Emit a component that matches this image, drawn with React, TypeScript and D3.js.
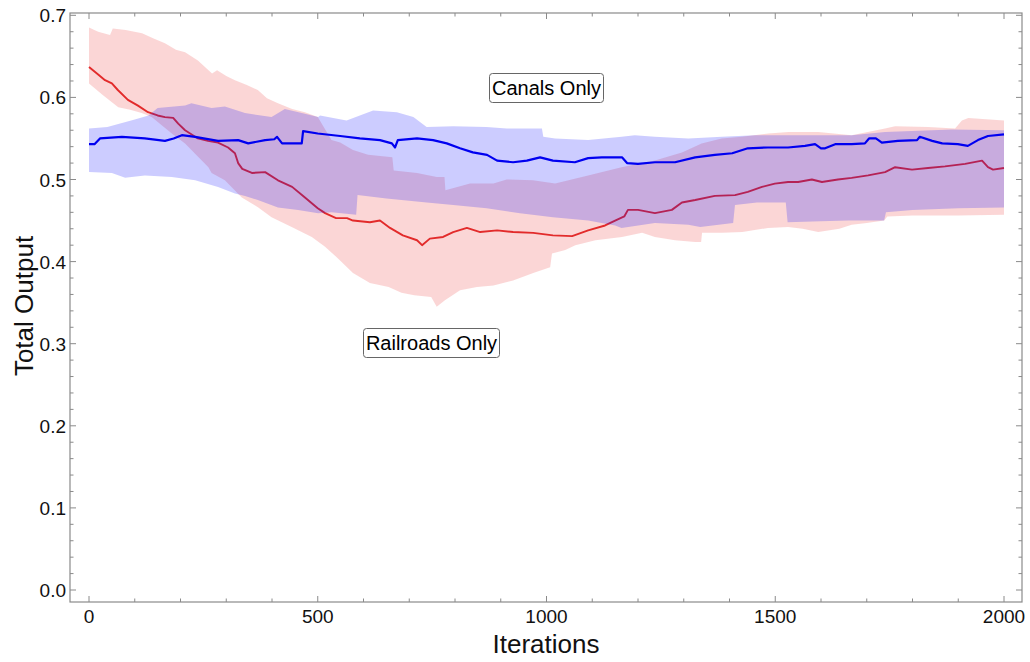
import React from "react";
import * as d3 from "d3";

type P = [number, number];

const xTicksMajor = [0, 500, 1000, 1500, 2000];
const yTicksMajor = [0, 0.1, 0.2, 0.3, 0.4, 0.5, 0.6, 0.7];
const seriesLabels = ["Canals Only", "Railroads Only"];

const redMean: P[] = [
  [0, 0.637], [20, 0.628], [35, 0.621], [50, 0.617], [63, 0.609], [85, 0.597], [107, 0.59], [129, 0.582],
  [150, 0.578], [166, 0.576], [184, 0.575], [195, 0.568], [210, 0.56], [238, 0.55], [260, 0.547], [282, 0.545],
  [304, 0.539], [319, 0.532], [326, 0.52], [335, 0.513], [356, 0.508], [385, 0.509], [413, 0.499], [444, 0.491],
  [472, 0.478], [500, 0.465], [516, 0.459], [540, 0.453], [564, 0.453], [577, 0.45], [614, 0.448], [636, 0.45],
  [658, 0.441], [686, 0.432], [717, 0.426], [728, 0.42], [745, 0.428], [774, 0.43], [796, 0.436], [826, 0.441],
  [855, 0.436], [892, 0.438], [927, 0.436], [971, 0.435], [1014, 0.432], [1056, 0.431], [1091, 0.438],
  [1128, 0.444], [1150, 0.45], [1170, 0.455], [1178, 0.463], [1200, 0.463], [1237, 0.459], [1274, 0.463],
  [1296, 0.472], [1325, 0.475], [1368, 0.48], [1412, 0.481], [1440, 0.485], [1471, 0.491], [1499, 0.495],
  [1528, 0.497], [1550, 0.497], [1580, 0.5], [1602, 0.497], [1637, 0.5], [1667, 0.502], [1703, 0.505],
  [1740, 0.509], [1762, 0.515], [1799, 0.512], [1834, 0.514], [1871, 0.516], [1915, 0.519], [1952, 0.523],
  [1965, 0.515], [1976, 0.512], [2000, 0.514],
];

const redUpper: P[] = [
  [0, 0.685], [20, 0.68], [46, 0.676], [52, 0.684], [80, 0.682], [116, 0.678], [140, 0.672], [166, 0.666],
  [190, 0.658], [210, 0.655], [238, 0.645], [269, 0.629], [280, 0.633], [300, 0.626], [319, 0.621],
  [345, 0.615], [369, 0.609], [389, 0.599], [413, 0.593], [444, 0.586], [472, 0.582], [500, 0.576],
  [515, 0.562], [530, 0.548], [549, 0.545], [577, 0.536], [610, 0.53], [663, 0.527], [666, 0.511],
  [717, 0.508], [760, 0.503], [777, 0.503], [779, 0.487], [833, 0.495], [884, 0.495], [913, 0.5],
  [970, 0.499], [1019, 0.495], [1091, 0.505], [1164, 0.515], [1237, 0.523], [1296, 0.533], [1339, 0.544],
  [1383, 0.55], [1427, 0.552], [1485, 0.556], [1529, 0.558], [1594, 0.558], [1667, 0.554], [1740, 0.562],
  [1762, 0.565], [1834, 0.564], [1893, 0.562], [1908, 0.572], [1922, 0.575], [2000, 0.572],
];

const redLower: P[] = [
  [0, 0.617], [30, 0.603], [64, 0.588], [90, 0.585], [115, 0.581], [137, 0.576], [181, 0.556], [210, 0.544],
  [261, 0.515], [268, 0.508], [297, 0.499], [334, 0.478], [370, 0.466], [399, 0.454], [443, 0.442],
  [487, 0.43], [516, 0.418], [542, 0.405], [577, 0.386], [614, 0.374], [655, 0.369], [683, 0.362],
  [711, 0.359], [748, 0.357], [760, 0.345], [778, 0.353], [811, 0.365], [848, 0.369], [884, 0.371],
  [927, 0.377], [971, 0.386], [1008, 0.393], [1012, 0.41], [1041, 0.414], [1063, 0.42], [1107, 0.426],
  [1165, 0.43], [1209, 0.435], [1237, 0.43], [1281, 0.426], [1325, 0.424], [1338, 0.424], [1340, 0.435],
  [1384, 0.435], [1428, 0.436], [1484, 0.441], [1528, 0.442], [1560, 0.44], [1594, 0.436], [1640, 0.44],
  [1667, 0.445], [1700, 0.447], [1738, 0.45], [1745, 0.455], [1800, 0.456], [1900, 0.456], [2000, 0.457],
];

const blueMean: P[] = [
  [0, 0.543], [12, 0.543], [24, 0.55], [72, 0.552], [122, 0.55], [166, 0.547], [185, 0.55], [203, 0.554],
  [232, 0.552], [282, 0.547], [326, 0.548], [348, 0.544], [385, 0.548], [405, 0.549], [411, 0.552],
  [422, 0.544], [465, 0.544], [468, 0.559], [500, 0.556], [549, 0.553], [592, 0.55], [636, 0.548],
  [662, 0.544], [669, 0.539], [675, 0.548], [717, 0.55], [752, 0.548], [782, 0.544], [811, 0.538],
  [839, 0.533], [870, 0.53], [892, 0.523], [927, 0.521], [957, 0.523], [986, 0.527], [1014, 0.523],
  [1062, 0.521], [1091, 0.526], [1121, 0.527], [1165, 0.527], [1176, 0.52], [1200, 0.519], [1237, 0.521],
  [1281, 0.521], [1325, 0.527], [1368, 0.53], [1406, 0.532], [1440, 0.538], [1484, 0.539], [1528, 0.539],
  [1565, 0.541], [1587, 0.543], [1600, 0.538], [1609, 0.538], [1631, 0.543], [1667, 0.543], [1696, 0.544],
  [1705, 0.55], [1720, 0.55], [1733, 0.545], [1768, 0.547], [1810, 0.548], [1816, 0.552], [1843, 0.547],
  [1865, 0.544], [1899, 0.543], [1921, 0.541], [1943, 0.548], [1965, 0.553], [2000, 0.555],
];

const blueUpper: P[] = [
  [0, 0.562], [40, 0.564], [100, 0.573], [130, 0.578], [150, 0.587], [210, 0.59], [224, 0.593],
  [268, 0.587], [297, 0.589], [341, 0.581], [399, 0.576], [428, 0.586], [465, 0.581], [501, 0.576],
  [505, 0.578], [563, 0.572], [592, 0.578], [621, 0.584], [673, 0.582], [709, 0.576], [738, 0.564],
  [796, 0.565], [869, 0.564], [913, 0.562], [990, 0.562], [993, 0.552], [1019, 0.55], [1091, 0.548],
  [1164, 0.552], [1193, 0.554], [1237, 0.552], [1310, 0.55], [1383, 0.552], [1456, 0.554], [1529, 0.554],
  [1667, 0.554], [1740, 0.558], [1886, 0.561], [2000, 0.56],
];

const blueLower: P[] = [
  [0, 0.509], [50, 0.508], [79, 0.502], [122, 0.505], [181, 0.503], [232, 0.499], [282, 0.491],
  [319, 0.483], [341, 0.48], [369, 0.475], [413, 0.466], [457, 0.463], [501, 0.459], [530, 0.46],
  [584, 0.457], [587, 0.481], [650, 0.477], [738, 0.472], [796, 0.469], [869, 0.465], [942, 0.459],
  [1014, 0.454], [1091, 0.45], [1150, 0.444], [1164, 0.441], [1237, 0.447], [1310, 0.445], [1336, 0.442],
  [1408, 0.447], [1412, 0.469], [1460, 0.472], [1523, 0.472], [1527, 0.448], [1600, 0.449], [1660, 0.45],
  [1738, 0.45], [1742, 0.46], [1800, 0.463], [1900, 0.465], [2000, 0.466],
];

const W = 1030;
const H = 662;
const frame = { left: 70, right: 1022, top: 13, bottom: 602 };
const FONT = "'Liberation Sans', Arial, Helvetica, sans-serif";

export default function App() {
  const x = d3.scaleLinear().domain([0, 2000]).range([89, 1004]);
  const y = d3.scaleLinear().domain([0, 0.7]).range([590, 15.3]);
  const line = d3
    .line<P>()
    .x((d) => x(d[0]))
    .y((d) => y(d[1]));
  const band = (up: P[], lo: P[]) => (line(up.concat(lo.slice().reverse())) || "") + "Z";

  const xMinor = d3.range(0, 2001, 100);
  const yMinor = d3.range(0, 0.701, 0.02);
  const axisColor = "#8a8a8a";

  return (
    <svg
      width={W}
      height={H}
      style={{ position: "absolute", left: 0, top: 0, display: "block", background: "#fff" }}
      fontFamily={FONT}
    >
      <defs>
        <clipPath id="plotclip">
          <rect x={frame.left} y={frame.top} width={frame.right - frame.left} height={frame.bottom - frame.top} />
        </clipPath>
      </defs>
      <g clipPath="url(#plotclip)">
        <path d={band(redUpper, redLower)} fill="rgb(235,70,70)" fillOpacity={0.22} stroke="none" />
        <path d={line(redMean) || ""} fill="none" stroke="#e22b2b" strokeWidth={1.9} strokeLinejoin="round" />
        <path d={band(blueUpper, blueLower)} fill="rgb(0,0,255)" fillOpacity={0.2} stroke="none" />
        <path d={line(blueMean) || ""} fill="none" stroke="#0000f0" strokeWidth={2.2} strokeLinejoin="round" />
      </g>

      {/* frame */}
      <rect
        x={frame.left}
        y={frame.top}
        width={frame.right - frame.left}
        height={frame.bottom - frame.top}
        fill="none"
        stroke={axisColor}
        strokeWidth={1.2}
      />
      {/* x ticks */}
      {xMinor.map((v) => {
        const major = v % 500 === 0;
        const len = major ? 6 : 3.5;
        const px = x(v);
        return (
          <g key={"xt" + v} stroke={axisColor} strokeWidth={1}>
            <line x1={px} x2={px} y1={frame.bottom} y2={frame.bottom - len} />
            <line x1={px} x2={px} y1={frame.top} y2={frame.top + len} />
          </g>
        );
      })}
      {/* y ticks */}
      {yMinor.map((v, i) => {
        const major = i % 5 === 0;
        const len = major ? 6 : 3.5;
        const py = y(v);
        return (
          <g key={"yt" + i} stroke={axisColor} strokeWidth={1}>
            <line x1={frame.left} x2={frame.left + len} y1={py} y2={py} />
            <line x1={frame.right} x2={frame.right - len} y1={py} y2={py} />
          </g>
        );
      })}
      {xTicksMajor.map((v) => (
        <text key={"xl" + v} x={x(v)} y={623} fontSize={19} textAnchor="middle" fill="#111">
          {String(v)}
        </text>
      ))}
      {yTicksMajor.map((v) => (
        <text key={"yl" + v} x={66} y={y(v) + 7} fontSize={19} textAnchor="end" fill="#111">
          {v.toFixed(1)}
        </text>
      ))}

      <text x={546} y={653} fontSize={26} textAnchor="middle" fill="#111">
        Iterations
      </text>
      <text
        transform={`translate(33, 306) rotate(-90)`}
        fontSize={26}
        textAnchor="middle"
        fill="#111"
      >
        Total Output
      </text>

      {/* labels */}
      <rect x={489.5} y={73.5} width={114} height={29} rx={3} fill="#fff" stroke="#666" strokeWidth={1} />
      <text x={546.5} y={95} fontSize={20} textAnchor="middle" fill="#000">
        {seriesLabels[0]}
      </text>
      <rect x={363.5} y={328.5} width={136} height={29} rx={3} fill="#fff" stroke="#666" strokeWidth={1} />
      <text x={431.5} y={350} fontSize={20} textAnchor="middle" fill="#000">
        {seriesLabels[1]}
      </text>
    </svg>
  );
}
